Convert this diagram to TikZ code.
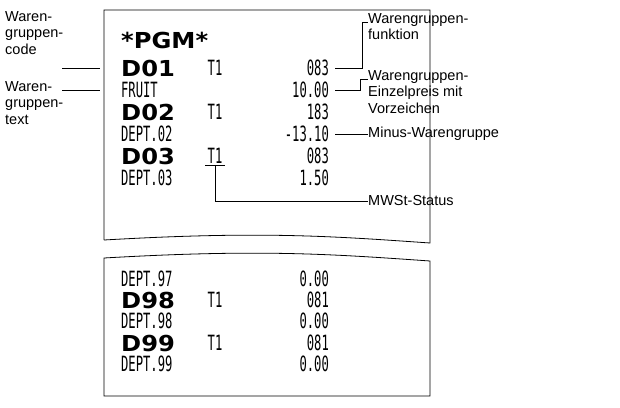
\documentclass[tikz,border=0pt]{standalone}
\usepackage{fontspec}
\setmainfont{Liberation Sans}
\newfontfamily\rcpt{DejaVu Sans Mono}
\newfontfamily\rcptb{DejaVu Sans}
\usetikzlibrary{positioning}
\begin{document}
\begin{tikzpicture}[x=1pt,y=-1pt]
\tikzstyle{every node}+=[inner sep=0pt]
\tikzstyle{lbl}=[font=\fontsize{14.5}{16.5}\selectfont,align=left,anchor=west]
\tikzstyle{rc}=[font=\rcpt\fontsize{21}{21}\selectfont,xscale=0.58]
\tikzstyle{rcb}=[font=\rcptb\bfseries\fontsize{22}{22}\selectfont,xscale=1.1]
\useasboundingbox (0,0) rectangle (620,407);
% paper
\draw[thick] (104,240) -- (104,10) -- (430,10) -- (430,243)
  .. controls (330,236) and (260,231) .. (104,240);
\draw[thick] (104,258) .. controls (260,249) and (330,254) .. (430,261)
  -- (430,396) -- (104,396) -- cycle;
% upper text
\node[rcb,anchor=west] (pgm) at (121,40) {*PGM*};
\node[rcb,anchor=west] (d1) at (121,68) {D01};
\node[rc] (t1a) at (215,68) {T1};
\node[rc,anchor=east] (f1) at (329,68) {083};
\node[rc,anchor=west] (txt1) at (121,90) {FRUIT};
\node[rc,anchor=east] (p1) at (329,90) {10.00};
\node[rcb,anchor=west] (d2) at (121,112) {D02};
\node[rc] (t1b) at (215,112) {T1};
\node[rc,anchor=east] (f2) at (329,112) {183};
\node[rc,anchor=west] (txt2) at (121,134) {DEPT.02};
\node[rc,anchor=east] (p2) at (329,134) {-13.10};
\node[rcb,anchor=west] (d3) at (121,156) {D03};
\node[rc] (t1c) at (215,156) {T1};
\node[rc,anchor=east] (f3) at (329,156) {083};
\node[rc,anchor=west] (txt3) at (121,178) {DEPT.03};
\node[rc,anchor=east] (p3) at (329,178) {1.50};
% lower text
\node[rc,anchor=west] (txt97) at (121,279) {DEPT.97};
\node[rc,anchor=east] (p97) at (329,279) {0.00};
\node[rcb,anchor=west] (d98) at (121,300) {D98};
\node[rc] (t98) at (215,300) {T1};
\node[rc,anchor=east] (f98) at (329,300) {081};
\node[rc,anchor=west] (txt98) at (121,321) {DEPT.98};
\node[rc,anchor=east] (p98) at (329,321) {0.00};
\node[rcb,anchor=west] (d99) at (121,343) {D99};
\node[rc] (t99) at (215,343) {T1};
\node[rc,anchor=east] (f99) at (329,343) {081};
\node[rc,anchor=west] (txt99) at (121,364) {DEPT.99};
\node[rc,anchor=east] (p99) at (329,364) {0.00};
% labels
\node[lbl,anchor=north west] (lcode) at (5,11) {Waren-\\gruppen-\\code};
\node[lbl,anchor=north west] (ltext) at (5,81) {Waren-\\gruppen-\\text};
\node[lbl,anchor=north west] (lfunk) at (368,13) {Warengruppen-\\funktion};
\node[lbl,anchor=north west] (lpreis) at (368,70) {Warengruppen-\\Einzelpreis mit\\Vorzeichen};
\node[lbl] (lminus) at (368,134) {Minus-Warengruppe};
\node[lbl] (lmwst) at (368,201) {MWSt-Status};
% leaders
\draw (62,68) -- (100,68);
\draw (62,90) -- (100,90);
\draw (335,68) -- (362,68) -- (362,22) -- (lfunk.west |- 0,22);
\draw (335,90) -- (360,90) -- (360,79) -- (lpreis.west |- 0,79);
\draw (335,134) -- (lminus.west);
\draw (205,165) -- (225,165);
\draw (215,165) |- (lmwst.west);
\end{tikzpicture}
\end{document}
